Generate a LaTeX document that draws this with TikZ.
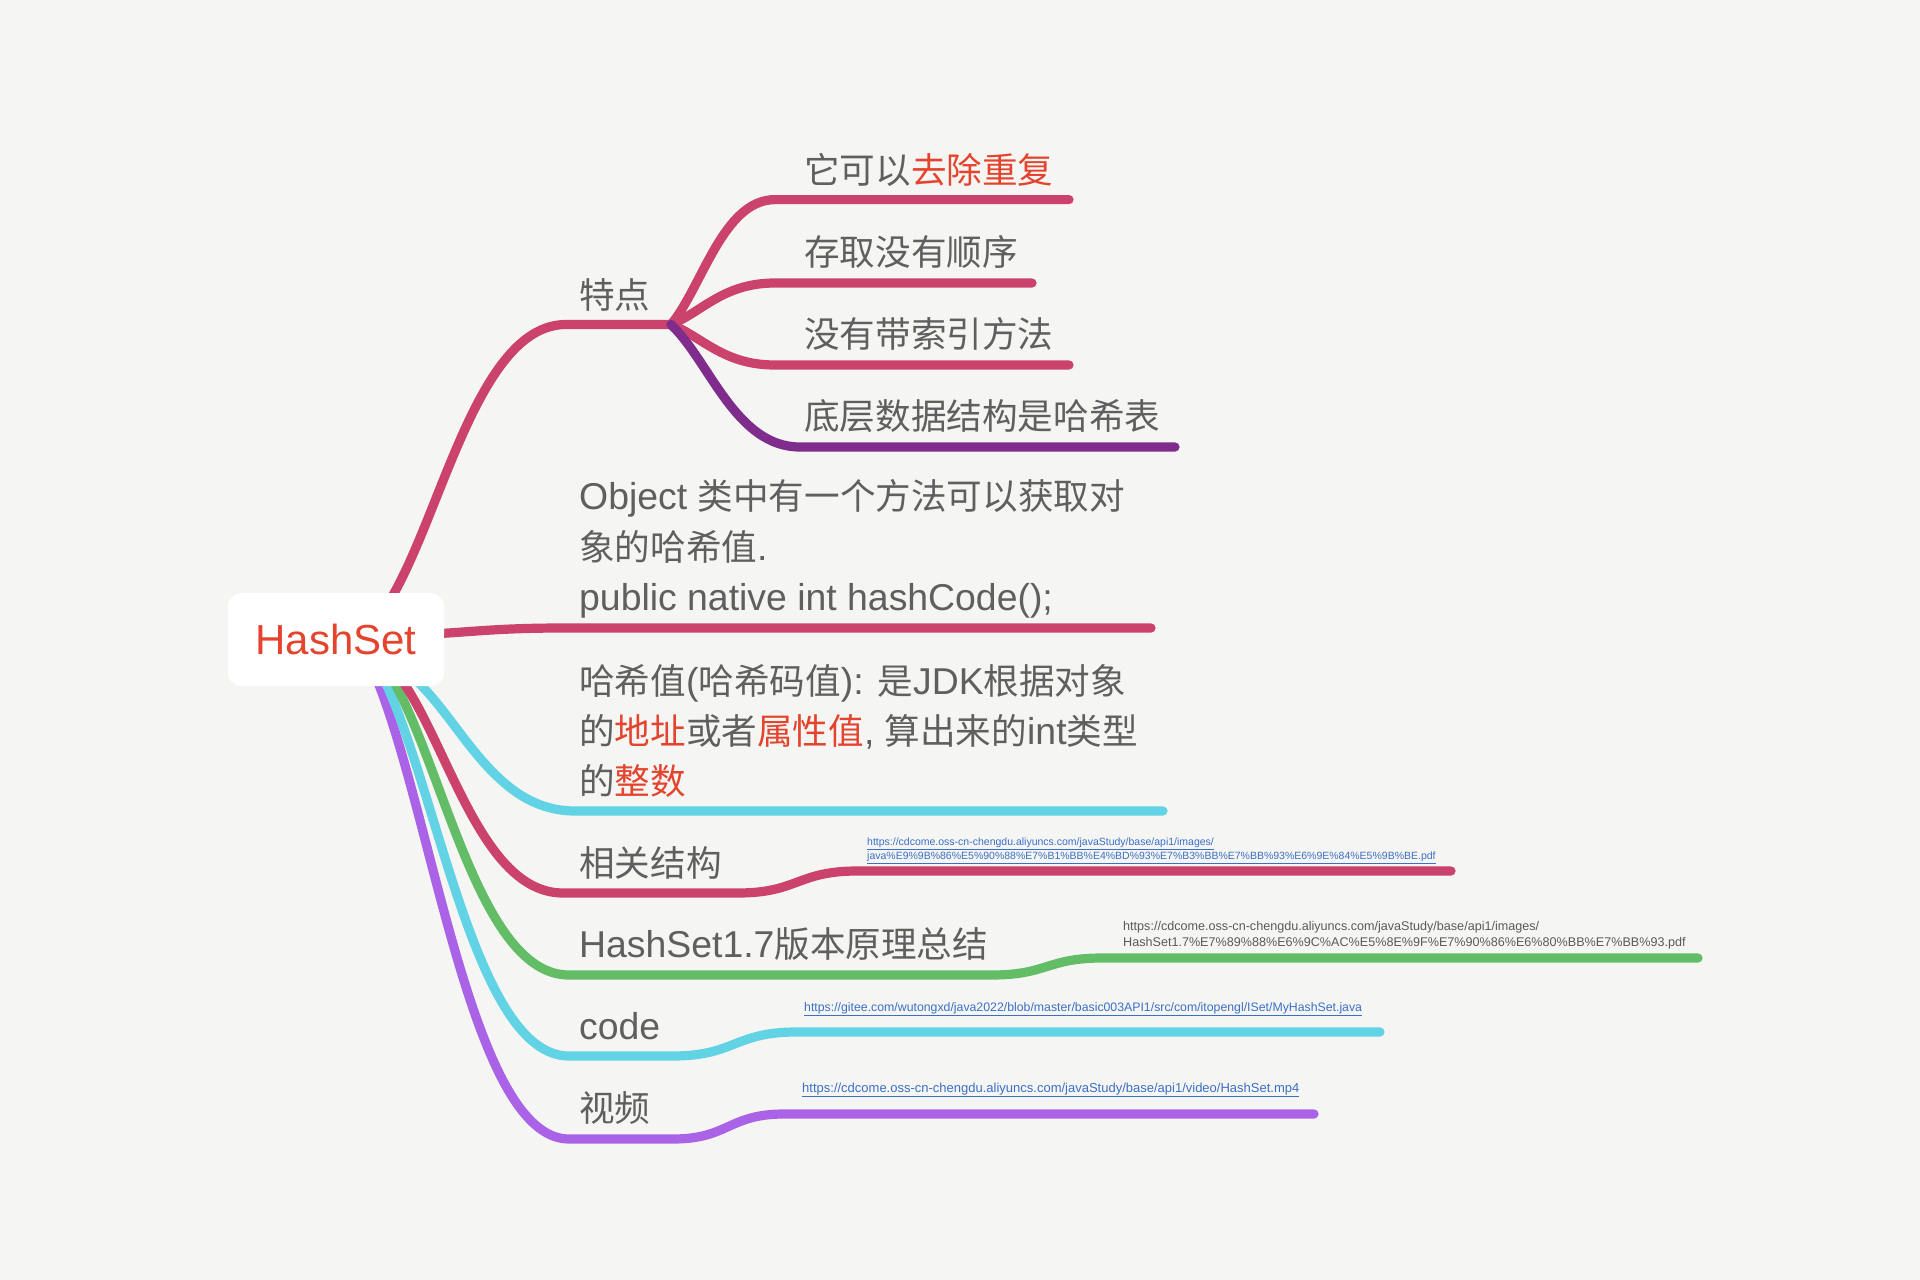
\documentclass[tikz,border=0pt]{standalone}
\usepackage{fontspec}
\setmainfont{Liberation Sans}[Scale=1.05]
\newfontfamily\zh{Noto Sans CJK SC}
\newfontfamily\urlf{Liberation Sans}
\definecolor{bgc}{HTML}{F5F6F3}
\definecolor{txt}{HTML}{5F5F5F}
\definecolor{hl}{HTML}{E4432D}
\definecolor{crim}{HTML}{CB426C}
\definecolor{purp}{HTML}{7F2C8C}
\definecolor{cyanb}{HTML}{62D3E4}
\definecolor{grn}{HTML}{63BD67}
\definecolor{viol}{HTML}{AA62E6}
\definecolor{linkc}{HTML}{3B6FC6}
\definecolor{urlg}{HTML}{5A5A5A}
\newcommand\redt[1]{\textcolor{hl}{#1}}
\pgfdeclarelayer{back}
\pgfdeclarelayer{lines}
\pgfsetlayers{back,lines,main}
\tikzset{
  br/.style={line width=9.2pt, line cap=round, line join=round},
  lbl/.style={anchor=west, inner sep=0pt, text=txt, font=\fontsize{35.6}{50.2}\selectfont, align=left},
  urlnode/.style={anchor=west, inner sep=0pt, align=left},
  rootbox/.style={fill=white, rounded corners=13pt, minimum width=216pt, minimum height=93pt, inner sep=0pt, text=hl, font=\fontsize{40}{48}\selectfont},
}
\begin{document}
\begin{tikzpicture}[x=1pt,y=-1pt]
\begin{pgfonlayer}{back}
\fill[bgc] (0,0) rectangle (1920,1280);
\end{pgfonlayer}
\useasboundingbox (0,0) rectangle (1920,1280);

% root
\node[rootbox] (root) at (336,639.5) {HashSet};

% coordinates
\coordinate (aS) at (387,605);
\coordinate (aE) at (566,324.5);
\coordinate (aJ) at (671,324.5);
\coordinate (a1E) at (775,199.6);
\coordinate (a1T) at (1069,199.6);
\coordinate (a2E) at (775,283);
\coordinate (a2T) at (1032,283);
\coordinate (a3E) at (775,365);
\coordinate (a3T) at (1069,365);
\coordinate (a4E) at (800,447);
\coordinate (a4T) at (1175,447);
\coordinate (bS) at (430,634);
\coordinate (bE) at (563,628);
\coordinate (bT) at (1151,628);
\coordinate (cS) at (410,675);
\coordinate (cE) at (575,811);
\coordinate (cT) at (1163,811);
\coordinate (dS) at (398,675);
\coordinate (dE) at (563,893);
\coordinate (dM) at (738,893);
\coordinate (dN) at (857,871);
\coordinate (dT) at (1451,871);
\coordinate (eS) at (390,675);
\coordinate (eE) at (569,975);
\coordinate (eM) at (992,975);
\coordinate (eN) at (1102,958);
\coordinate (eT) at (1698,958);
\coordinate (fS) at (382,675);
\coordinate (fE) at (569,1056);
\coordinate (fM) at (673,1056);
\coordinate (fN) at (796,1032);
\coordinate (fT) at (1380,1032);
\coordinate (gS) at (375,675);
\coordinate (gE) at (569,1139);
\coordinate (gM) at (673,1139);
\coordinate (gN) at (784,1114);
\coordinate (gT) at (1314,1114);

% labels
\node[lbl] (t0) at (579,295) {\zh 特点};
\node[lbl] (t1) at (804,170) {\zh 它可以\redt{去除重复}};
\node[lbl] (t2) at (804,252) {\zh 存取没有顺序};
\node[lbl] (t3) at (804,334) {\zh 没有带索引方法};
\node[lbl] (t4) at (804,416) {\zh 底层数据结构是哈希表};
\node[lbl] (tb) at (579,549) {Object {\zh 类中有一个方法可以获取对}\\{\zh 象的哈希值}.\\public native int hashCode();};
\node[lbl] (tc) at (579,731) {{\zh 哈希值}({\zh 哈希码值}): {\zh 是}JDK{\zh 根据对象}\\{\zh 的\redt{地址}或者\redt{属性值}}, {\zh 算出来的}int{\zh 类型}\\{\zh 的\redt{整数}}};
\node[lbl] (td) at (579,863) {\zh 相关结构};
\node[lbl] (te) at (579,944) {HashSet1.7{\zh 版本原理总结}};
\node[lbl] (tf) at (579,1026) {code};
\node[lbl] (tg) at (579,1108) {\zh 视频};

% urls
\node[urlnode, text=linkc, font=\urlf\fontsize{10.5}{14.4}\selectfont] (ud) at (867,851)
  {\underline{https://cdcome.oss-cn-chengdu.aliyuncs.com/javaStudy/base/api1/images/}\\\underline{java\%E9\%9B\%86\%E5\%90\%88\%E7\%B1\%BB\%E4\%BD\%93\%E7\%B3\%BB\%E7\%BB\%93\%E6\%9E\%84\%E5\%9B\%BE.pdf}};
\node[urlnode, text=urlg, font=\urlf\fontsize{12.6}{16}\selectfont] (ue) at (1123,935)
  {https://cdcome.oss-cn-chengdu.aliyuncs.com/javaStudy/base/api1/images/\\HashSet1.7\%E7\%89\%88\%E6\%9C\%AC\%E5\%8E\%9F\%E7\%90\%86\%E6\%80\%BB\%E7\%BB\%93.pdf};
\node[urlnode, text=linkc, font=\urlf\fontsize{12.3}{15}\selectfont] (uf) at (804,1009)
  {\underline{https://gitee.com/wutongxd/java2022/blob/master/basic003API1/src/com/itopengl/ISet/MyHashSet.java}};
\node[urlnode, text=linkc, font=\urlf\fontsize{13}{15}\selectfont] (ug) at (802,1090)
  {\underline{https://cdcome.oss-cn-chengdu.aliyuncs.com/javaStudy/base/api1/video/HashSet.mp4}};

% connectors
\begin{pgfonlayer}{lines}
\draw[br, crim] (aS) .. controls (440.7,520.9) and (476.5,324.5) .. (aE) -- (aJ);
\draw[br, crim] (aJ) .. controls (702.2,287) and (723,199.6) .. (a1E) -- (a1T);
\draw[br, crim] (aJ) .. controls (702.2,312) and (723,283) .. (a2E) -- (a2T);
\draw[br, crim] (aJ) .. controls (702.2,336.7) and (723,365) .. (a3E) -- (a3T);
\draw[br, purp] (aJ) .. controls (709.7,361.3) and (735.5,447) .. (a4E) -- (a4T);
\draw[br, crim] (bS) .. controls (469.9,632.2) and (496.5,628) .. (bE) -- (bT);
\draw[br, viol] (gS) .. controls (433.2,814.2) and (472,1139) .. (gE) -- (gM)
  .. controls (728.5,1139) and (728.5,1114) .. (gN) -- (gT);
\draw[br, cyanb] (fS) .. controls (438.1,789.3) and (475.5,1056) .. (fE) -- (fM)
  .. controls (734.5,1056) and (734.5,1032) .. (fN) -- (fT);
\draw[br, grn] (eS) .. controls (443.7,765) and (479.5,975) .. (eE) -- (eM)
  .. controls (1047,975) and (1047,958) .. (eN) -- (eT);
\draw[br, crim] (dS) .. controls (447.5,740.4) and (480.5,893) .. (dE) -- (dM)
  .. controls (797.5,893) and (797.5,871) .. (dN) -- (dT);
\draw[br, cyanb] (cS) .. controls (459.5,715.8) and (492.5,811) .. (cE) -- (cT);
\end{pgfonlayer}
\end{tikzpicture}
\end{document}
